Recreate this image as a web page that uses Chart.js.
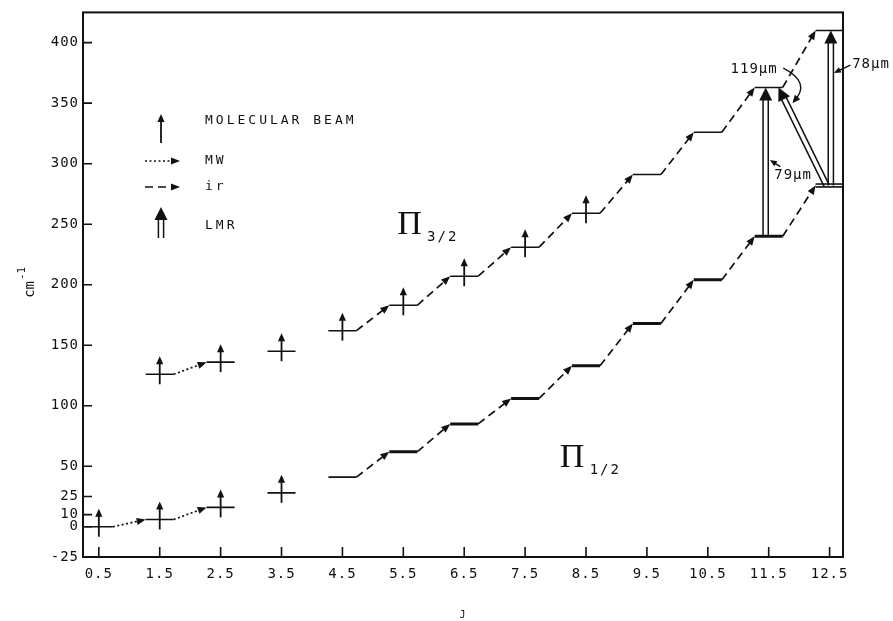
<!DOCTYPE html>
<html>
<head>
<meta charset="utf-8">
<script src="https://cdn.jsdelivr.net/npm/chart.js@4.4.1/dist/chart.umd.min.js"></script>
<style>
  html, body { margin: 0; padding: 0; background: #fff; }
  canvas { display: block; }
</style>
</head>
<body>
<canvas id="levels" width="893" height="621"></canvas>
<script>
// rotational quantum number J
var jValues = [0.5, 1.5, 2.5, 3.5, 4.5, 5.5, 6.5, 7.5, 8.5, 9.5, 10.5, 11.5, 12.5];
// term energies in cm-1
var pi12Energy = [0, 6, 16, 28, 41, 62, 85, 106, 133, 168, 204, 240, 282];
var pi32Energy = [null, 126, 136, 145, 162, 183, 207, 231, 259, 291, 326, 363, 410];
var yTicks = [-25, 0, 10, 25, 50, 100, 150, 200, 250, 300, 350, 400];

// which levels were seen by each technique
var beamPi12 = [0.5, 1.5, 2.5, 3.5];
var beamPi32 = [1.5, 2.5, 3.5, 4.5, 5.5, 6.5, 7.5, 8.5];
var mwPi12 = [0.5, 1.5];          // J -> J+1 microwave lines
var mwPi32 = [1.5];
var irPi12 = [4.5, 5.5, 6.5, 7.5, 8.5, 9.5, 10.5, 11.5];
var irPi32 = [4.5, 5.5, 6.5, 7.5, 8.5, 9.5, 10.5, 11.5];
// laser magnetic resonance lines (J, energy) from -> to
var lmrFromJ = [11.45, 12.45, 12.52];
var lmrFromE = [240, 282, 282];
var lmrToJ = [11.45, 11.66, 12.52];
var lmrToE = [363, 363, 410];

var HALF = 0.23;   // half length of a level bar, in J units
var INK = '#111';
var MONO = '"DejaVu Sans Mono", monospace';

function energyOf(series, j) {
  return series[jValues.indexOf(j)];
}

function levelSet(j, e, width) {
  return {
    data: [{x: j - HALF, y: e}, {x: j + HALF, y: e}],
    showLine: true,
    borderColor: INK,
    borderWidth: width,
    borderCapStyle: 'butt',
    pointRadius: 0,
    fill: false
  };
}

var datasets = [];
for (var i = 0; i < jValues.length; i++) {
  var j = jValues[i];
  var w = (j >= 5.5 && j <= 11.5) ? 3 : 1.6;
  if (j == 12.5) w = 4.5;
  datasets.push(levelSet(j, pi12Energy[i], w));
  if (pi32Energy[i] != null) {
    datasets.push(levelSet(j, pi32Energy[i], 1.6));
  }
}

function head(ctx, x1, y1, x2, y2, len, half) {
  var a = Math.atan2(y2 - y1, x2 - x1);
  ctx.save();
  ctx.setLineDash([]);
  ctx.beginPath();
  ctx.moveTo(x2, y2);
  ctx.lineTo(x2 - len * Math.cos(a) + half * Math.sin(a), y2 - len * Math.sin(a) - half * Math.cos(a));
  ctx.lineTo(x2 - len * Math.cos(a) - half * Math.sin(a), y2 - len * Math.sin(a) + half * Math.cos(a));
  ctx.closePath();
  ctx.fill();
  ctx.restore();
}

function arrow(ctx, x1, y1, x2, y2, dash, width, len, half) {
  var a = Math.atan2(y2 - y1, x2 - x1);
  ctx.save();
  ctx.lineWidth = width;
  ctx.setLineDash(dash);
  ctx.beginPath();
  ctx.moveTo(x1, y1);
  ctx.lineTo(x2 - (len - 1) * Math.cos(a), y2 - (len - 1) * Math.sin(a));
  ctx.stroke();
  ctx.restore();
  head(ctx, x1, y1, x2, y2, len, half);
}

function doubleArrow(ctx, x1, y1, x2, y2) {
  var a = Math.atan2(y2 - y1, x2 - x1);
  var len = 13, gap = 2.6;
  var ex = x2 - (len - 2) * Math.cos(a), ey = y2 - (len - 2) * Math.sin(a);
  var px = -Math.sin(a) * gap, py = Math.cos(a) * gap;
  ctx.save();
  ctx.lineWidth = 1.5;
  ctx.setLineDash([]);
  ctx.beginPath();
  ctx.moveTo(x1 + px, y1 + py); ctx.lineTo(ex + px, ey + py);
  ctx.moveTo(x1 - px, y1 - py); ctx.lineTo(ex - px, ey - py);
  ctx.stroke();
  ctx.restore();
  head(ctx, x1, y1, x2, y2, len, 6.5);
}

function spacedText(ctx, text, x, y, size, spacing, align, family) {
  ctx.save();
  ctx.font = size + 'px ' + (family || MONO);
  ctx.letterSpacing = spacing + 'px';
  ctx.textAlign = align || 'left';
  ctx.textBaseline = 'middle';
  ctx.fillText(text, x, y);
  ctx.restore();
}

var diagram = {
  id: 'diagram',
  beforeDraw: function(chart) {
    var ctx = chart.ctx;
    ctx.save();
    ctx.fillStyle = '#fff';
    ctx.fillRect(0, 0, chart.width, chart.height);
    ctx.restore();
    ctx.letterSpacing = '1px';
  },
  afterDatasetsDraw: function(chart) {
    var ctx = chart.ctx;
    var xs = chart.scales.x, ys = chart.scales.y;
    var area = chart.chartArea;
    var X = function(v) { return xs.getPixelForValue(v); };
    var Y = function(v) { return ys.getPixelForValue(v); };
    ctx.save();
    ctx.strokeStyle = INK;
    ctx.fillStyle = INK;

    // frame and inward ticks
    ctx.lineWidth = 2;
    ctx.strokeRect(area.left, area.top, area.right - area.left, area.bottom - area.top);
    ctx.lineWidth = 1.6;
    ctx.beginPath();
    yTicks.forEach(function(t) {
      ctx.moveTo(area.left, Y(t)); ctx.lineTo(area.left + 9, Y(t));
    });
    jValues.forEach(function(t) {
      ctx.moveTo(X(t), area.bottom); ctx.lineTo(X(t), area.bottom - 10);
    });
    ctx.stroke();

    // white gap in the doubled J=12.5 level
    ctx.save();
    ctx.strokeStyle = '#fff';
    ctx.lineWidth = 1.3;
    ctx.beginPath();
    ctx.moveTo(X(12.5 - HALF), Y(282)); ctx.lineTo(Math.min(X(12.5 + HALF), area.right - 1), Y(282));
    ctx.stroke();
    ctx.restore();

    // molecular beam arrows
    function beam(j, e) {
      arrow(ctx, X(j), Y(e) + 10, X(j), Y(e) - 18, [], 1.8, 8, 3.6);
    }
    beamPi12.forEach(function(j) { beam(j, energyOf(pi12Energy, j)); });
    beamPi32.forEach(function(j) { beam(j, energyOf(pi32Energy, j)); });

    // microwave (dotted) and infrared (dashed) transitions
    function step(series, j, dash) {
      var e0 = energyOf(series, j), e1 = energyOf(series, j + 1);
      arrow(ctx, X(j + HALF), Y(e0), X(j + 1 - HALF), Y(e1), dash, 1.7, 9, 3.6);
    }
    mwPi12.forEach(function(j) { step(pi12Energy, j, [2, 2.5]); });
    mwPi32.forEach(function(j) { step(pi32Energy, j, [2, 2.5]); });
    irPi12.forEach(function(j) { step(pi12Energy, j, [8, 5]); });
    irPi32.forEach(function(j) { step(pi32Energy, j, [8, 5]); });

    // LMR transitions
    for (var k = 0; k < lmrFromJ.length; k++) {
      doubleArrow(ctx, X(lmrFromJ[k]), Y(lmrFromE[k]), X(lmrToJ[k]), Y(lmrToE[k]));
    }

    // wavelength labels
    spacedText(ctx, '119\u03bcm', X(11.26), Y(378), 14, 1, 'center');
    spacedText(ctx, '78\u03bcm', X(12.87), Y(382), 14, 1, 'left');
    spacedText(ctx, '79\u03bcm', X(11.9), Y(290), 14, 1, 'center');
    ctx.save();
    ctx.lineWidth = 1.4;
    ctx.beginPath();
    ctx.moveTo(X(11.74), Y(379));
    ctx.quadraticCurveTo(X(12.2), Y(367), X(11.92), Y(352));
    ctx.stroke();
    ctx.restore();
    head(ctx, X(12.02), Y(358), X(11.89), Y(350), 8, 3.5);
    arrow(ctx, X(12.84), Y(381.5), X(12.57), Y(375), [], 1.4, 7, 3);
    arrow(ctx, X(11.69), Y(297.5), X(11.52), Y(303), [], 1.4, 7, 3);

    // term symbols
    spacedText(ctx, '\u03a0', X(5.6), Y(249), 34, 0, 'center', '"Liberation Serif", serif');
    spacedText(ctx, '3/2', X(5.89), Y(239), 14, 2, 'left');
    spacedText(ctx, '\u03a0', X(8.27), Y(57), 34, 0, 'center', '"Liberation Serif", serif');
    spacedText(ctx, '1/2', X(8.56), Y(47), 14, 2, 'left');

    // legend
    arrow(ctx, 161, 143, 161, 114, [], 1.8, 8, 3.6);
    spacedText(ctx, 'MOLECULAR BEAM', 205, 121, 13, 3, 'left');
    arrow(ctx, 145, 161, 180, 161, [2, 2.5], 1.7, 9, 3.6);
    spacedText(ctx, 'MW', 205, 161, 13, 3, 'left');
    arrow(ctx, 145, 187, 180, 187, [8, 5], 1.7, 9, 3.6);
    spacedText(ctx, 'ir', 205, 187, 13, 3, 'left');
    doubleArrow(ctx, 161, 238, 161, 207);
    spacedText(ctx, 'LMR', 205, 226, 13, 3, 'left');

    // y axis title
    ctx.save();
    ctx.translate(30, 284);
    ctx.rotate(-Math.PI / 2);
    spacedText(ctx, 'cm', 3, 0, 14, 0, 'right');
    spacedText(ctx, '-1', 4, -8, 11, 0, 'left');
    ctx.restore();

    ctx.restore();
  }
};

new Chart(document.getElementById('levels'), {
  type: 'scatter',
  data: { datasets: datasets },
  options: {
    responsive: false,
    animation: false,
    events: [],
    layout: { padding: { top: 12, right: 50, bottom: 0, left: 0 } },
    plugins: { legend: { display: false }, tooltip: { enabled: false } },
    scales: {
      x: {
        type: 'linear',
        min: 0.24,
        max: 12.72,
        afterBuildTicks: function(scale) {
          scale.ticks = jValues.map(function(v) { return {value: v}; });
        },
        afterFit: function(scale) { scale.height = 64; },
        grid: { display: false, drawTicks: false },
        border: { display: false },
        ticks: {
          autoSkip: false,
          maxRotation: 0,
          padding: 9,
          color: INK,
          font: { family: MONO, size: 14 },
          callback: function(v) { return v.toFixed(1); }
        },
        title: {
          display: true,
          text: 'J',
          color: INK,
          font: { family: MONO, size: 10 },
          padding: { top: 0, bottom: 0 }
        }
      },
      y: {
        type: 'linear',
        min: -25,
        max: 425,
        afterBuildTicks: function(scale) {
          scale.ticks = yTicks.map(function(v) { return {value: v}; });
        },
        afterFit: function(scale) { scale.width = 83; },
        grid: { display: false, drawTicks: false },
        border: { display: false },
        ticks: {
          autoSkip: false,
          padding: 4,
          color: INK,
          font: { family: MONO, size: 14 },
          callback: function(v) { return String(v); }
        }
      }
    }
  },
  plugins: [diagram]
});
</script>
</body>
</html>
